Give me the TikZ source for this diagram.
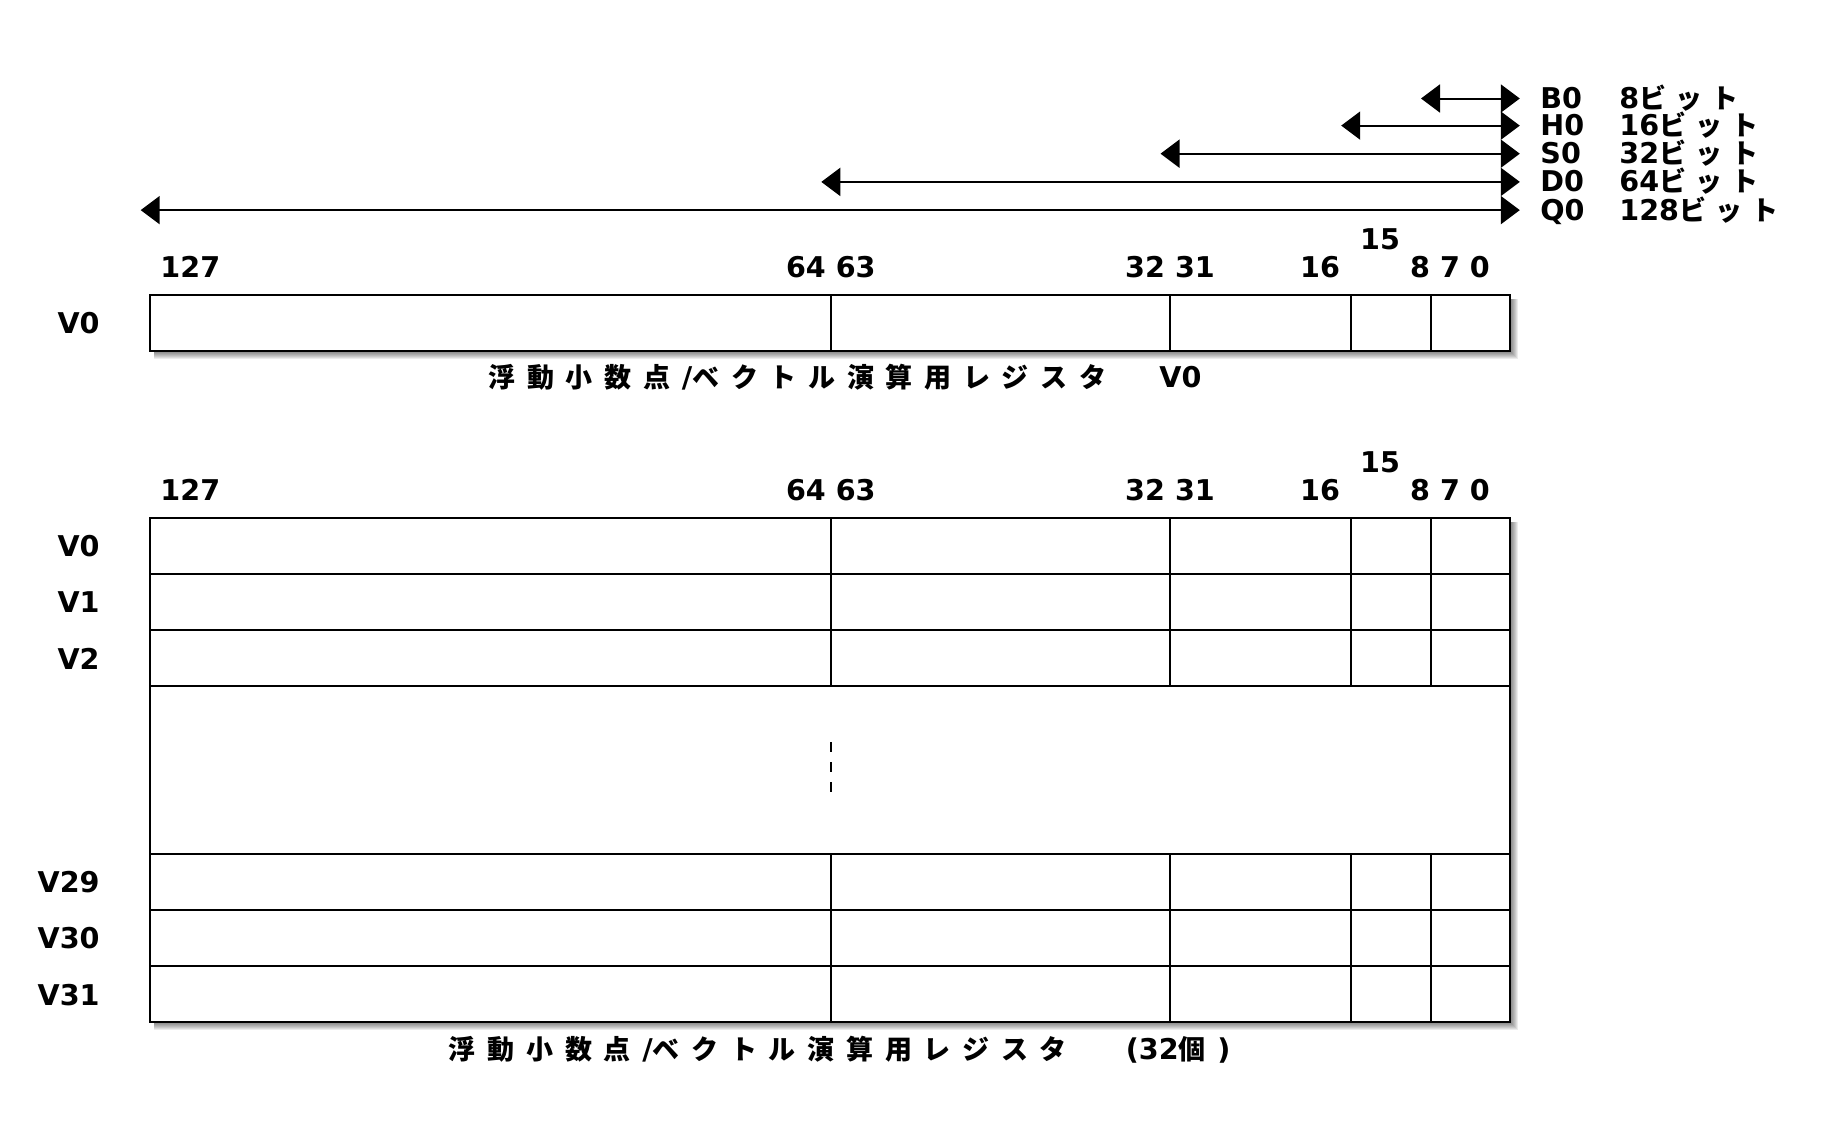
\documentclass[tikz,border=0pt]{standalone}
\usepackage{fontspec}
\setmainfont{DejaVu Sans}
\newfontfamily\jp{Noto Sans CJK JP}
\usetikzlibrary{arrows.meta}
\newcommand\jc[2][19.35pt]{\makebox[#1][l]{{\jp\bfseries\fontsize{13.5}{15}\selectfont #2}}}
\newcommand\bitto{\jc[18pt]{ビ}\jc[18pt]{ッ}\jc{ト}}
\newcommand\regshadow[4]{%
  \foreach \d in {1,...,8}{\fill[black,opacity=0.075] (#1+4,#2+4) rectangle (#3+\d,#4+\d);}}
\begin{document}
\begin{tikzpicture}[x=0.5pt,y=-0.5pt,
  lbl/.style={font=\fontsize{14.3}{16}\selectfont\bfseries, inner sep=0pt, anchor=base},
  captext/.style={font=\fontsize{14.3}{16}\selectfont\bfseries, inner sep=0pt, anchor=base west},
  reg/.style={line width=1pt, draw=black, fill=white},
  sep/.style={line width=1pt},
  arr/.style={line width=1pt, {Triangle[length=9.5pt,width=14pt]}-{Triangle[length=9.5pt,width=14pt]}}
]
\useasboundingbox[fill=white] (0,0) rectangle (1840,1120);

% ---------- width arrows ----------
\coordinate (bL) at (1421,98.5);  \coordinate (bR) at (1519.8,98.5);
\coordinate (hL) at (1341.2,125.6); \coordinate (hR) at (1519.8,125.6);
\coordinate (sL) at (1160.5,153.7); \coordinate (sR) at (1519.8,153.7);
\coordinate (dL) at (821.3,181.9); \coordinate (dR) at (1519.8,181.9);
\coordinate (qL) at (140.7,210.1); \coordinate (qR) at (1519.8,210.1);
\draw[arr] (bL) -- (bR);
\draw[arr] (hL) -- (hR);
\draw[arr] (sL) -- (sR);
\draw[arr] (dL) -- (dR);
\draw[arr] (qL) -- (qR);

\node[lbl,anchor=base west] (lB) at (1540,108.5) {B0};
\node[lbl,anchor=base west] (lH) at (1540,135.6) {H0};
\node[lbl,anchor=base west] (lS) at (1540,163.7) {S0};
\node[lbl,anchor=base west] (lD) at (1540,191.9) {D0};
\node[lbl,anchor=base west] (lQ) at (1540,220.1) {Q0};
\node[lbl,anchor=base west] (tB) at (1619,108.5) {8\bitto};
\node[lbl,anchor=base west] (tH) at (1619,135.6) {16\bitto};
\node[lbl,anchor=base west] (tS) at (1619,163.7) {32\bitto};
\node[lbl,anchor=base west] (tD) at (1619,191.9) {64\bitto};
\node[lbl,anchor=base west] (tQ) at (1619,220.1) {128\bitto};

% ---------- single register V0 ----------
\node[lbl] (a127) at (190.3,277.5) {127};
\node[lbl] (a64) at (830.8,277.5) {64 63};
\node[lbl] (a32) at (1170,277.5) {32 31};
\node[lbl] (a16) at (1320,277.5) {16};
\node[lbl] (a15) at (1380,249.3) {15};
\node[lbl] (a870) at (1450,277.5) {8 7 0};

\regshadow{150.2}{294.5}{1510.3}{350.5}
\draw[reg] (150.2,294.5) rectangle (1510.3,350.5);
\foreach \x in {830.8,1170,1350.7,1430.5} \draw[sep] (\x,294.5) -- (\x,350.5);
\node[lbl,anchor=base east] (rV0a) at (100,333) {V0};

\node[captext] (cap1) at (488,387.3) {\makebox[335.5pt][l]{\jc{浮}\jc{動}\jc{小}\jc{数}\jc{点}/\jc{ベ}\jc{ク}\jc{ト}\jc{ル}\jc{演}\jc{算}\jc{用}\jc{レ}\jc{ジ}\jc{ス}\jc{タ}}V0};

% ---------- register file V0..V31 ----------
\node[lbl] (b127) at (190.3,500.5) {127};
\node[lbl] (b64) at (830.8,500.5) {64 63};
\node[lbl] (b32) at (1170,500.5) {32 31};
\node[lbl] (b16) at (1320,500.5) {16};
\node[lbl] (b15) at (1380,472.3) {15};
\node[lbl] (b870) at (1450,500.5) {8 7 0};

\regshadow{150.2}{517.5}{1510.3}{1022.1}
\draw[reg] (150.2,517.5) rectangle (1510.3,1022.1);
\foreach \y in {573.7,629.9,686.1,853.5,909.7,965.9} \draw[sep] (150.2,\y) -- (1510.3,\y);
\foreach \x in {830.8,1170,1350.7,1430.5} {
  \draw[sep] (\x,517.5) -- (\x,686.1);
  \draw[sep] (\x,853.5) -- (\x,1022.1);
}
\draw[line width=0.8pt,dash pattern=on 5pt off 5pt] (830.8,742) -- (830.8,792);

\node[lbl,anchor=base east] (rV0) at (100,556.6) {V0};
\node[lbl,anchor=base east] (rV1) at (100,612.8) {V1};
\node[lbl,anchor=base east] (rV2) at (100,669) {V2};
\node[lbl,anchor=base east] (rV29) at (100,892.6) {V29};
\node[lbl,anchor=base east] (rV30) at (100,948.8) {V30};
\node[lbl,anchor=base east] (rV31) at (100,1005) {V31};

\node[captext] (cap2) at (448.5,1059.3) {\makebox[338.5pt][l]{\jc{浮}\jc{動}\jc{小}\jc{数}\jc{点}/\jc{ベ}\jc{ク}\jc{ト}\jc{ル}\jc{演}\jc{算}\jc{用}\jc{レ}\jc{ジ}\jc{ス}\jc{タ}}(32\jc{個})};
\end{tikzpicture}
\end{document}
